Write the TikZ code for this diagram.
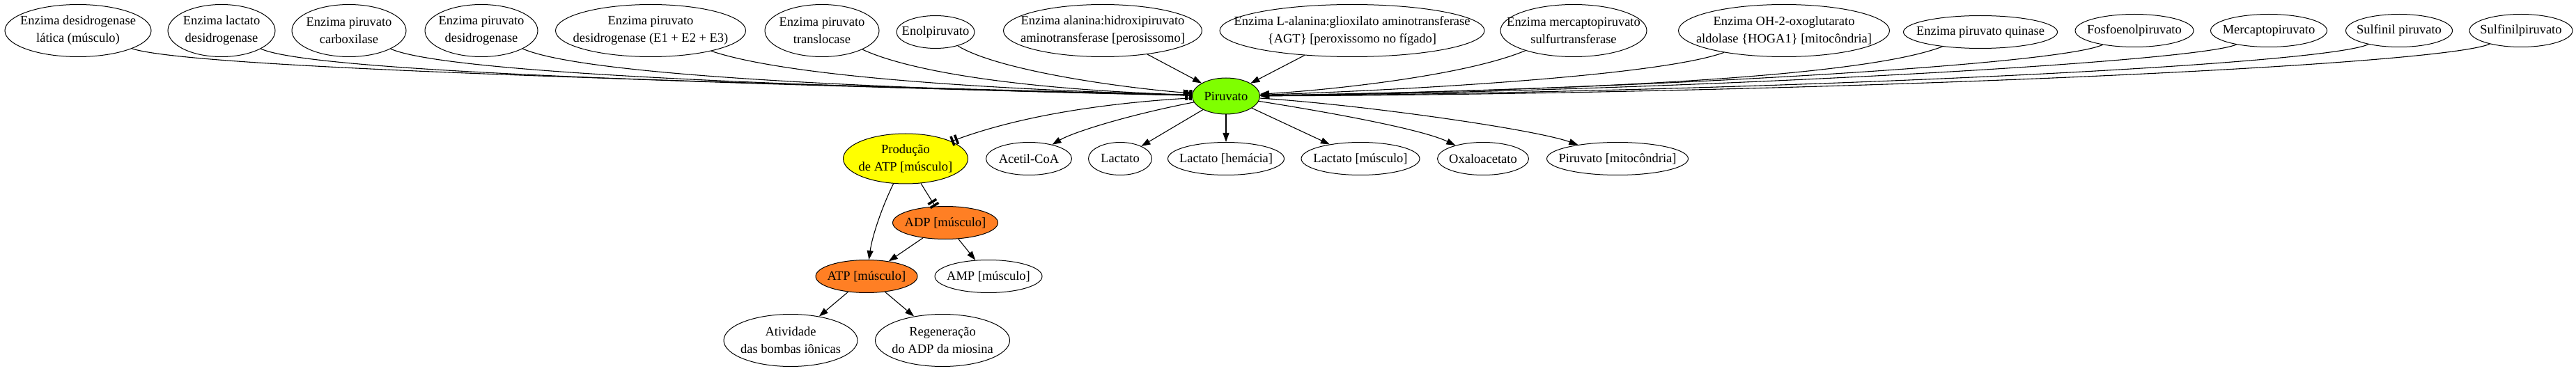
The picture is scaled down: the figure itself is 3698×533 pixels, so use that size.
\documentclass[tikz,border=0pt]{standalone}
\usepackage{fontspec}
\setmainfont{Liberation Serif}
\usetikzlibrary{shapes.geometric,arrows.meta}
\definecolor{piruc}{HTML}{7FFF00}
\definecolor{prodc}{HTML}{FFFF00}
\definecolor{atpc}{HTML}{FF7F24}
\begin{document}
\begin{tikzpicture}[x=1bp,y=-1bp,
  every node/.style={font=\fontsize{18.5bp}{25bp}\selectfont},
  nd/.style={ellipse,draw,line width=1bp,inner sep=0pt},
  lbl/.style={inner sep=0pt,align=center},
  sz/.style 2 args={minimum width=#1bp,minimum height=#2bp},
  arr/.style={line width=1.1bp,-{Triangle[length=13bp,width=9bp]}},
  tee/.style={line width=1.1bp,-{Rectangle[length=3.5bp,width=14bp,sep=2.5bp]Rectangle[length=3.5bp,width=14bp]}}
]
\useasboundingbox (0,0) rectangle (3698,533);
% top row
\node[nd,sz={210}{75}] (e1) at (112,44) {};
\node[lbl] (e1t) at (e1) {Enzima desidrogenase\\lática (músculo)};
\node[nd,sz={154}{75}] (e2) at (318,44) {};
\node[lbl] (e2t) at (e2) {Enzima lactato\\desidrogenase};
\node[nd,sz={164}{75}] (e3) at (501,44) {};
\node[lbl] (e3t) at (e3) {Enzima piruvato\\carboxilase};
\node[nd,sz={162}{75}] (e4) at (691,44) {};
\node[lbl] (e4t) at (e4) {Enzima piruvato\\desidrogenase};
\node[nd,sz={273}{75}] (e5) at (934,44) {};
\node[lbl] (e5t) at (e5) {Enzima piruvato\\desidrogenase (E1 + E2 + E3)};
\node[nd,sz={164}{75}] (e6) at (1180,44) {};
\node[lbl] (e6t) at (e6) {Enzima piruvato\\translocase};
\node[nd,sz={112}{47}] (e7) at (1343,46) {};
\node[lbl] (e7t) at (e7) {Enolpiruvato};
\node[nd,sz={285}{75}] (e8) at (1583,44) {};
\node[lbl] (e8t) at (e8) {Enzima alanina:hidroxipiruvato\\aminotransferase [perosissomo]};
\node[nd,sz={380}{75}] (e9) at (1941,44) {};
\node[lbl] (e9t) at (e9) {Enzima L-alanina:glioxilato aminotransferase\\\{AGT\} [peroxissomo no fígado]};
\node[nd,sz={210}{75}] (e10) at (2259,44) {};
\node[lbl] (e10t) at (e10) {Enzima mercaptopiruvato\\sulfurtransferase};
\node[nd,sz={303}{75}] (e11) at (2561,44) {};
\node[lbl] (e11t) at (e11) {Enzima OH-2-oxoglutarato\\aldolase \{HOGA1\} [mitocôndria]};
\node[nd,sz={221}{47}] (e12) at (2843,46) {};
\node[lbl] (e12t) at (e12) {Enzima piruvato quinase};
\node[nd,sz={170}{47}] (e13) at (3064,44) {};
\node[lbl] (e13t) at (e13) {Fosfoenolpiruvato};
\node[nd,sz={167}{47}] (e14) at (3257,44) {};
\node[lbl] (e14t) at (e14) {Mercaptopiruvato};
\node[nd,sz={153}{47}] (e15) at (3444,44) {};
\node[lbl] (e15t) at (e15) {Sulfinil piruvato};
\node[nd,sz={148}{47}] (e16) at (3619,44) {};
\node[lbl] (e16t) at (e16) {Sulfinilpiruvato};
% center
\node[nd,fill=piruc,sz={97}{52}] (piru) at (1760,138) {};
\node[lbl] (pirut) at (piru) {Piruvato};
% second row
\node[nd,fill=prodc,sz={179}{72}] (prod) at (1300,228) {};
\node[lbl] (prodt) at (prod) {Produção\\de ATP [músculo]};
\node[nd,sz={123}{47}] (acet) at (1477,228) {};
\node[lbl] (acett) at (acet) {Acetil-CoA};
\node[nd,sz={91}{47}] (lac) at (1608,228) {};
\node[lbl] (lact) at (lac) {Lactato};
\node[nd,sz={167}{47}] (lach) at (1760,228) {};
\node[lbl] (lacht) at (lach) {Lactato [hemácia]};
\node[nd,sz={170}{47}] (lacm) at (1953,228) {};
\node[lbl] (lacmt) at (lacm) {Lactato [músculo]};
\node[nd,sz={131}{47}] (oxa) at (2129,228) {};
\node[lbl] (oxat) at (oxa) {Oxaloacetato};
\node[nd,sz={203}{47}] (pmit) at (2322,228) {};
\node[lbl] (pmitt) at (pmit) {Piruvato [mitocôndria]};
% lower
\node[nd,fill=atpc,sz={151}{47}] (adp) at (1357,320) {};
\node[lbl] (adpt) at (adp) {ADP [músculo]};
\node[nd,fill=atpc,sz={146}{47}] (atp) at (1244,397) {};
\node[lbl] (atpt) at (atp) {ATP [músculo]};
\node[nd,sz={154}{47}] (amp) at (1419,397) {};
\node[lbl] (ampt) at (amp) {AMP [músculo]};
\node[nd,sz={192}{75}] (ativ) at (1135,489) {};
\node[lbl] (ativt) at (ativ) {Atividade\\das bombas iônicas};
\node[nd,sz={193}{75}] (regen) at (1353,489) {};
\node[lbl] (regent) at (regen) {Regeneração\\do ADP da miosina};
% edges into piruvato from left
\draw[tee] (e1) .. controls (280,100) and (1100,120) .. (piru);
\draw[tee] (e2) .. controls (450,105) and (1100,122) .. (piru);
\draw[tee] (e3) .. controls (640,105) and (1150,125) .. (piru);
\draw[tee] (e4) .. controls (830,105) and (1200,127) .. (piru);
\draw[tee] (e5) .. controls (1100,100) and (1300,125) .. (piru);
\draw[tee] (e6) .. controls (1300,100) and (1450,128) .. (piru);
\draw[arr] (e7) .. controls (1430,100) and (1600,125) .. (piru);
\draw[arr] (e8) -- (piru);
\draw[arr] (e9) -- (piru);
% from right
\draw[arr] (e10) .. controls (2100,110) and (1900,130) .. (piru);
\draw[arr] (e11) .. controls (2380,110) and (2000,130) .. (piru);
\draw[arr] (e12) .. controls (2650,120) and (2100,132) .. (piru);
\draw[arr] (e13) .. controls (2950,95) and (2300,130) .. (piru);
\draw[arr] (e14) .. controls (3150,90) and (2400,131) .. (piru);
\draw[arr] (e15) .. controls (3330,95) and (2500,133) .. (piru);
\draw[arr] (e16) .. controls (3500,95) and (2600,135) .. (piru);
% out of piruvato
\draw[tee] (piru) .. controls (1550,150) and (1440,175) .. (prod);
\draw[arr] (piru) .. controls (1620,165) and (1540,190) .. (acet);
\draw[arr] (piru) -- (lac);
\draw[arr] (piru) -- (lach);
\draw[arr] (piru) -- (lacm);
\draw[arr] (piru) .. controls (1900,160) and (2040,185) .. (oxa);
\draw[arr] (piru) .. controls (1950,150) and (2200,185) .. (pmit);
% lower edges
\draw[arr] (prod) .. controls (1265,300) and (1252,340) .. (atp);
\draw[tee] (prod) -- (adp);
\draw[arr] (adp) -- (atp);
\draw[arr] (adp) -- (amp);
\draw[arr] (atp) -- (ativ);
\draw[arr] (atp) -- (regen);
\end{tikzpicture}
\end{document}
